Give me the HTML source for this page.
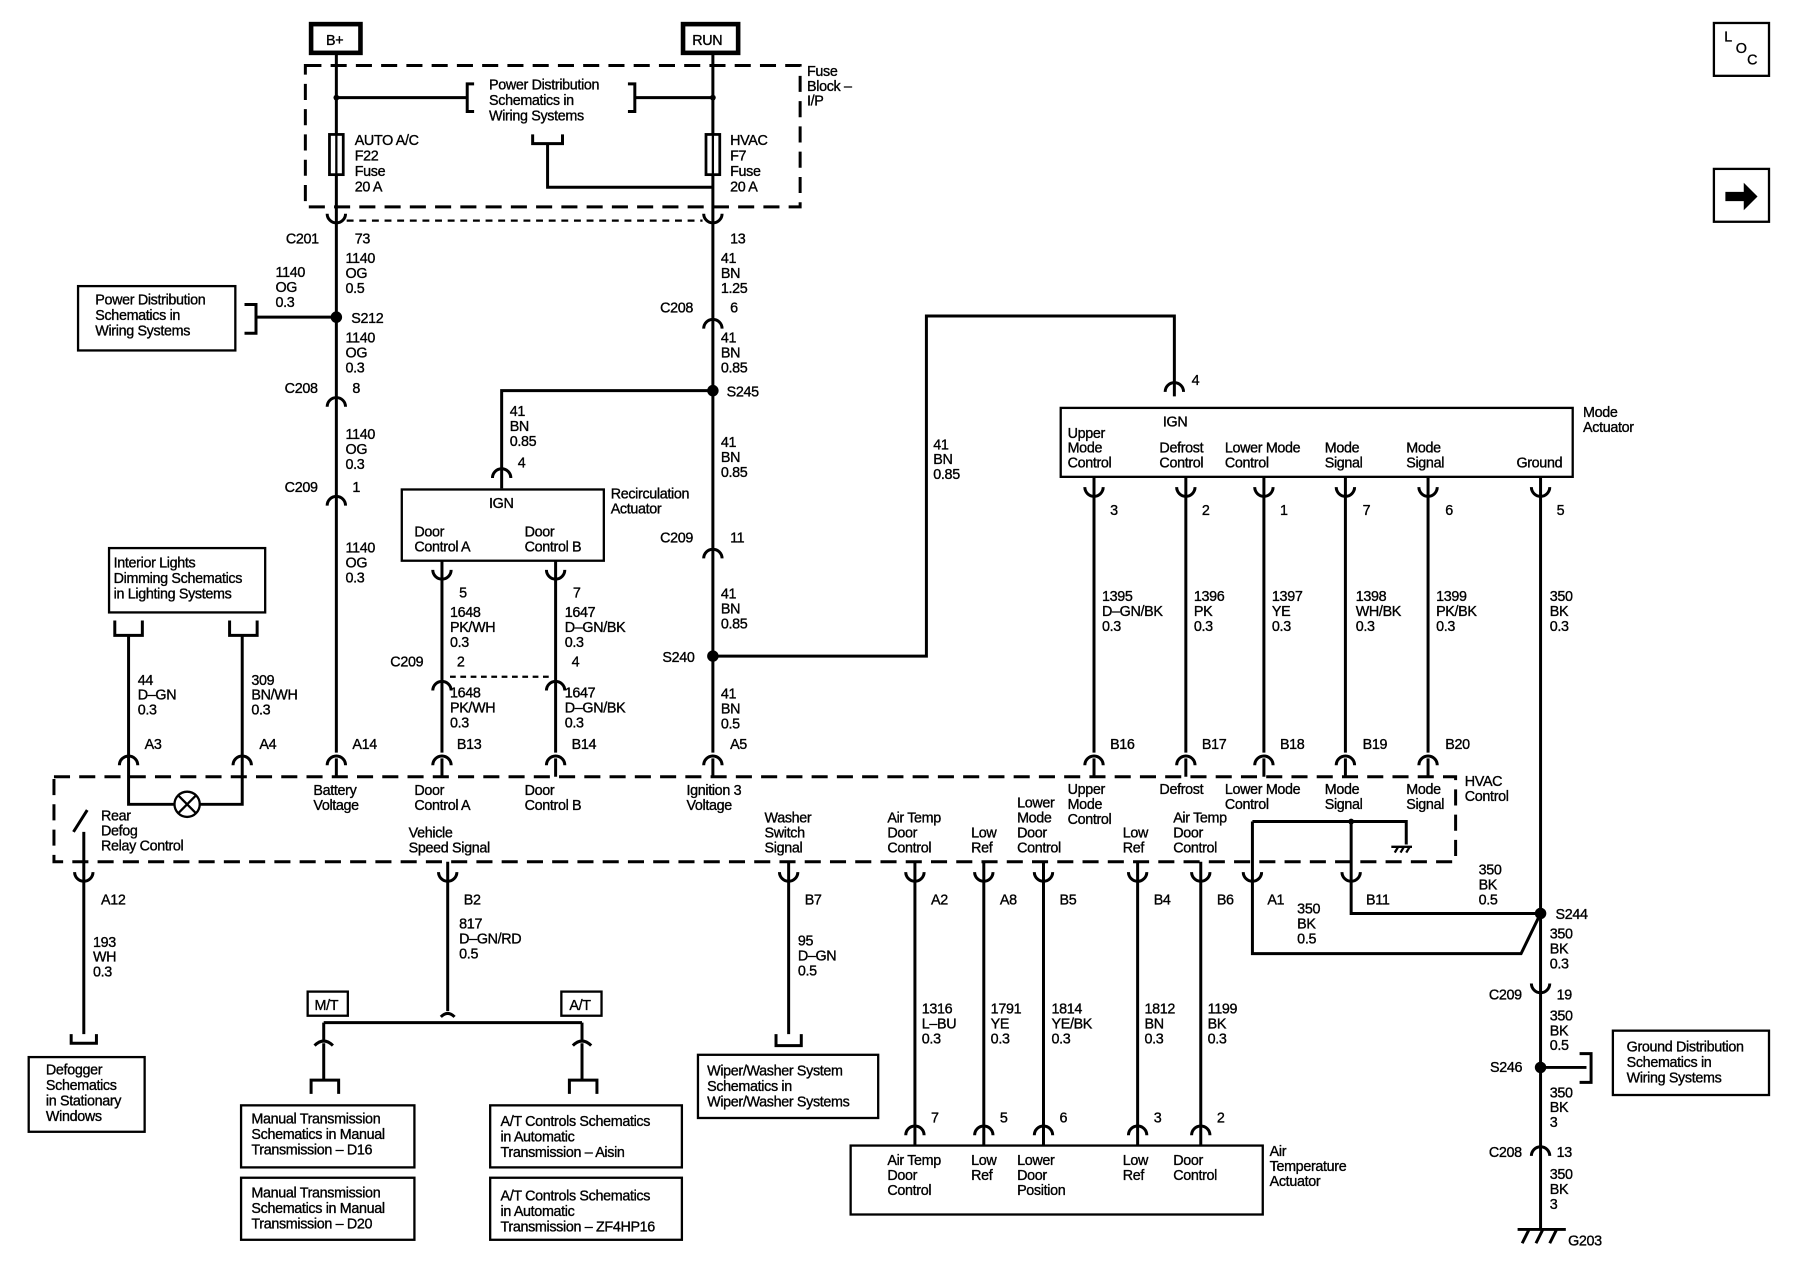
<!DOCTYPE html>
<html><head><meta charset="utf-8"><style>
html,body{margin:0;padding:0;background:#fff;}
svg{display:block}
text{font-family:"Liberation Sans",sans-serif;font-size:12.5px;fill:#000;letter-spacing:-0.3px;stroke:#000;stroke-width:0.3px}
.w{stroke:#000;stroke-width:2.6;fill:none}
.t{stroke:#000;stroke-width:2;fill:none}
.d{stroke:#000;stroke-width:2.6;fill:none;stroke-dasharray:14,8}
.b{stroke:#000;stroke-width:2.4;fill:#fff}
</style></head><body>
<svg width="1800" height="1280" viewBox="0 0 1568 1114" preserveAspectRatio="none" xmlns="http://www.w3.org/2000/svg">
<defs>
<path id="a" d="M-8,6 A8,8 0 0 1 8,6" class="w"/>
<path id="u" d="M-8,-6 A8,8 0 0 0 8,-6" class="w"/>
</defs>
<rect x="0" y="0" width="1568" height="1114" fill="#fff"/>
<rect x="271" y="21" width="43" height="25" fill="#fff" stroke="#000" stroke-width="4"/><text x="284" y="39">B+</text>
<rect x="595" y="21" width="48" height="25" fill="#fff" stroke="#000" stroke-width="4"/><text x="603" y="39">RUN</text>
<rect x="1493" y="20" width="48" height="46" class="t"/><text x="1502" y="36" font-size="10">L</text><text x="1512" y="46" font-size="10">O</text><text x="1522" y="56" font-size="10">C</text>
<rect x="1493" y="147" width="48" height="46" class="t"/><path d="M1503,167 h16 v-8 l12,12 l-12,12 v-8 h-16z" fill="#000"/>
<rect x="266" y="57" width="431" height="123" class="d"/>
<text x="703" y="66"><tspan x="703">Fuse</tspan><tspan x="703" dy="13">Block –</tspan><tspan x="703" dy="13">I/P</tspan></text>
<path d="M293,47 V655 M621,47 V655" class="w"/>
<path d="M293,85 H407 M553,85 H621 M413,73 h-6 v24 h6 M547,73 h6 v24 h-6" class="w"/>
<circle cx="293" cy="85" r="2.5"/><circle cx="621" cy="85" r="2.5"/>
<text x="426" y="78"><tspan x="426">Power Distribution</tspan><tspan x="426" dy="13.5">Schematics in</tspan><tspan x="426" dy="13.5">Wiring Systems</tspan></text>
<path d="M464,117 v8 h26 v-8 M477,125 V163 H621" class="w"/>
<rect x="287" y="117" width="12" height="35" class="b"/><rect x="615" y="117" width="12" height="35" class="b"/>
<path d="M293,117 V152 M621,117 V152" class="t"/>
<text x="309" y="126"><tspan x="309">AUTO A/C</tspan><tspan x="309" dy="13.5">F22</tspan><tspan x="309" dy="13.5">Fuse</tspan><tspan x="309" dy="13.5">20 A</tspan></text>
<text x="636" y="126"><tspan x="636">HVAC</tspan><tspan x="636" dy="13.5">F7</tspan><tspan x="636" dy="13.5">Fuse</tspan><tspan x="636" dy="13.5">20 A</tspan></text>
<path d="M302,192 H612" class="t" stroke-dasharray="6,5"/>
<use href="#u" x="293" y="192"/><use href="#u" x="621" y="192"/>
<text x="249" y="212">C201</text><text x="309" y="212">73</text><text x="636" y="212">13</text>
<text x="301" y="229"><tspan x="301">1140</tspan><tspan x="301" dy="13">OG</tspan><tspan x="301" dy="13">0.5</tspan></text>
<text x="240" y="241"><tspan x="240">1140</tspan><tspan x="240" dy="13">OG</tspan><tspan x="240" dy="13">0.3</tspan></text>
<circle cx="293" cy="276" r="5"/><text x="306" y="281">S212</text>
<path d="M293,276 H223 M213,265 h10 v25 h-10" class="w"/>
<rect x="68" y="249" width="137" height="56" class="t"/>
<text x="83" y="265"><tspan x="83">Power Distribution</tspan><tspan x="83" dy="13.5">Schematics in</tspan><tspan x="83" dy="13.5">Wiring Systems</tspan></text>
<text x="301" y="298"><tspan x="301">1140</tspan><tspan x="301" dy="13">OG</tspan><tspan x="301" dy="13">0.3</tspan></text>
<use href="#a" x="293" y="348"/><text x="248" y="342">C208</text><text x="307" y="342">8</text>
<text x="301" y="382"><tspan x="301">1140</tspan><tspan x="301" dy="13">OG</tspan><tspan x="301" dy="13">0.3</tspan></text>
<use href="#a" x="293" y="434"/><text x="248" y="428">C209</text><text x="307" y="428">1</text>
<text x="301" y="481"><tspan x="301">1140</tspan><tspan x="301" dy="13">OG</tspan><tspan x="301" dy="13">0.3</tspan></text>
<use href="#a" x="293" y="660"/><text x="307" y="652">A14</text>
<text x="628" y="229"><tspan x="628">41</tspan><tspan x="628" dy="13">BN</tspan><tspan x="628" dy="13">1.25</tspan></text>
<use href="#a" x="621" y="280"/><text x="575" y="272">C208</text><text x="636" y="272">6</text>
<text x="628" y="298"><tspan x="628">41</tspan><tspan x="628" dy="13">BN</tspan><tspan x="628" dy="13">0.85</tspan></text>
<circle cx="621" cy="340" r="5"/><text x="633" y="345">S245</text>
<path d="M621,340 H437 V425" class="w"/>
<text x="444" y="362"><tspan x="444">41</tspan><tspan x="444" dy="13">BN</tspan><tspan x="444" dy="13">0.85</tspan></text>
<use href="#a" x="437" y="410"/><text x="451" y="407">4</text>
<rect x="350" y="426" width="176" height="62" class="t"/>
<text x="426" y="442">IGN</text>
<text x="361" y="467"><tspan x="361">Door</tspan><tspan x="361" dy="13">Control A</tspan></text>
<text x="457" y="467"><tspan x="457">Door</tspan><tspan x="457" dy="13">Control B</tspan></text>
<text x="532" y="434"><tspan x="532">Recirculation</tspan><tspan x="532" dy="13">Actuator</tspan></text>
<path d="M385,488 V655 M484,488 V655" class="w"/>
<use href="#u" x="385" y="502"/><use href="#u" x="484" y="502"/>
<text x="400" y="520">5</text><text x="499" y="520">7</text>
<text x="392" y="537"><tspan x="392">1648</tspan><tspan x="392" dy="13">PK/WH</tspan><tspan x="392" dy="13">0.3</tspan></text>
<text x="492" y="537"><tspan x="492">1647</tspan><tspan x="492" dy="13">D–GN/BK</tspan><tspan x="492" dy="13">0.3</tspan></text>
<text x="340" y="580">C209</text><text x="398" y="580">2</text><text x="498" y="580">4</text>
<path d="M392,589 H478" class="t" stroke-dasharray="5,4"/>
<use href="#a" x="385" y="595"/><use href="#a" x="484" y="595"/>
<text x="392" y="607"><tspan x="392">1648</tspan><tspan x="392" dy="13">PK/WH</tspan><tspan x="392" dy="13">0.3</tspan></text>
<text x="492" y="607"><tspan x="492">1647</tspan><tspan x="492" dy="13">D–GN/BK</tspan><tspan x="492" dy="13">0.3</tspan></text>
<use href="#a" x="385" y="660"/><use href="#a" x="484" y="660"/>
<text x="398" y="652">B13</text><text x="498" y="652">B14</text>
<text x="628" y="389"><tspan x="628">41</tspan><tspan x="628" dy="13">BN</tspan><tspan x="628" dy="13">0.85</tspan></text>
<use href="#a" x="621" y="480"/><text x="575" y="472">C209</text><text x="636" y="472">11</text>
<text x="628" y="521"><tspan x="628">41</tspan><tspan x="628" dy="13">BN</tspan><tspan x="628" dy="13">0.85</tspan></text>
<circle cx="621" cy="571" r="5"/><text x="577" y="576">S240</text>
<path d="M621,571 H807 V275 H1023 V345" class="w"/>
<text x="813" y="391"><tspan x="813">41</tspan><tspan x="813" dy="13">BN</tspan><tspan x="813" dy="13">0.85</tspan></text>
<use href="#a" x="1023" y="335"/><text x="1038" y="335">4</text>
<text x="628" y="608"><tspan x="628">41</tspan><tspan x="628" dy="13">BN</tspan><tspan x="628" dy="13">0.5</tspan></text>
<use href="#a" x="621" y="660"/><text x="636" y="652">A5</text>
<rect x="924" y="355" width="446" height="60" class="t"/>
<text x="1013" y="371">IGN</text>
<text x="930" y="381"><tspan x="930">Upper</tspan><tspan x="930" dy="13">Mode</tspan><tspan x="930" dy="13">Control</tspan></text>
<text x="1010" y="394"><tspan x="1010">Defrost</tspan><tspan x="1010" dy="13">Control</tspan></text>
<text x="1067" y="394"><tspan x="1067">Lower Mode</tspan><tspan x="1067" dy="13">Control</tspan></text>
<text x="1154" y="394"><tspan x="1154">Mode</tspan><tspan x="1154" dy="13">Signal</tspan></text>
<text x="1225" y="394"><tspan x="1225">Mode</tspan><tspan x="1225" dy="13">Signal</tspan></text>
<text x="1321" y="407">Ground</text>
<text x="1379" y="363"><tspan x="1379">Mode</tspan><tspan x="1379" dy="13">Actuator</tspan></text>
<path d="M953,415 V655 M1033,415 V655 M1101,415 V655 M1172,415 V655 M1244,415 V655 M1342,415 V1070" class="w"/>
<use href="#u" x="953" y="430"/><use href="#u" x="1033" y="430"/><use href="#u" x="1101" y="430"/><use href="#u" x="1172" y="430"/><use href="#u" x="1244" y="430"/><use href="#u" x="1342" y="430"/>
<text x="967" y="448">3</text><text x="1047" y="448">2</text><text x="1115" y="448">1</text><text x="1187" y="448">7</text><text x="1259" y="448">6</text><text x="1356" y="448">5</text>
<text x="960" y="523"><tspan x="960">1395</tspan><tspan x="960" dy="13">D–GN/BK</tspan><tspan x="960" dy="13">0.3</tspan></text>
<text x="1040" y="523"><tspan x="1040">1396</tspan><tspan x="1040" dy="13">PK</tspan><tspan x="1040" dy="13">0.3</tspan></text>
<text x="1108" y="523"><tspan x="1108">1397</tspan><tspan x="1108" dy="13">YE</tspan><tspan x="1108" dy="13">0.3</tspan></text>
<text x="1181" y="523"><tspan x="1181">1398</tspan><tspan x="1181" dy="13">WH/BK</tspan><tspan x="1181" dy="13">0.3</tspan></text>
<text x="1251" y="523"><tspan x="1251">1399</tspan><tspan x="1251" dy="13">PK/BK</tspan><tspan x="1251" dy="13">0.3</tspan></text>
<text x="1350" y="523"><tspan x="1350">350</tspan><tspan x="1350" dy="13">BK</tspan><tspan x="1350" dy="13">0.3</tspan></text>
<use href="#a" x="953" y="660"/><use href="#a" x="1033" y="660"/><use href="#a" x="1101" y="660"/><use href="#a" x="1172" y="660"/><use href="#a" x="1244" y="660"/>
<text x="967" y="652">B16</text><text x="1047" y="652">B17</text><text x="1115" y="652">B18</text><text x="1187" y="652">B19</text><text x="1259" y="652">B20</text>
<rect x="47" y="676" width="1221" height="74" class="d"/>
<text x="1276" y="684"><tspan x="1276">HVAC</tspan><tspan x="1276" dy="13">Control</tspan></text>
<text x="273" y="692"><tspan x="273">Battery</tspan><tspan x="273" dy="13">Voltage</tspan></text>
<text x="361" y="692"><tspan x="361">Door</tspan><tspan x="361" dy="13">Control A</tspan></text>
<text x="457" y="692"><tspan x="457">Door</tspan><tspan x="457" dy="13">Control B</tspan></text>
<text x="598" y="692"><tspan x="598">Ignition 3</tspan><tspan x="598" dy="13">Voltage</tspan></text>
<text x="930" y="691"><tspan x="930">Upper</tspan><tspan x="930" dy="13">Mode</tspan><tspan x="930" dy="13">Control</tspan></text>
<text x="1010" y="691">Defrost</text>
<text x="1067" y="691"><tspan x="1067">Lower Mode</tspan><tspan x="1067" dy="13">Control</tspan></text>
<text x="1154" y="691"><tspan x="1154">Mode</tspan><tspan x="1154" dy="13">Signal</tspan></text>
<text x="1225" y="691"><tspan x="1225">Mode</tspan><tspan x="1225" dy="13">Signal</tspan></text>
<text x="88" y="714"><tspan x="88">Rear</tspan><tspan x="88" dy="13">Defog</tspan><tspan x="88" dy="13">Relay Control</tspan></text>
<text x="356" y="729"><tspan x="356">Vehicle</tspan><tspan x="356" dy="13">Speed Signal</tspan></text>
<text x="666" y="716"><tspan x="666">Washer</tspan><tspan x="666" dy="13">Switch</tspan><tspan x="666" dy="13">Signal</tspan></text>
<text x="773" y="716"><tspan x="773">Air Temp</tspan><tspan x="773" dy="13">Door</tspan><tspan x="773" dy="13">Control</tspan></text>
<text x="846" y="729"><tspan x="846">Low</tspan><tspan x="846" dy="13">Ref</tspan></text>
<text x="886" y="703"><tspan x="886">Lower</tspan><tspan x="886" dy="13">Mode</tspan><tspan x="886" dy="13">Door</tspan><tspan x="886" dy="13">Control</tspan></text>
<text x="978" y="729"><tspan x="978">Low</tspan><tspan x="978" dy="13">Ref</tspan></text>
<text x="1022" y="716"><tspan x="1022">Air Temp</tspan><tspan x="1022" dy="13">Door</tspan><tspan x="1022" dy="13">Control</tspan></text>
<path d="M293,660 V676 M385,660 V676 M484,660 V676 M621,660 V676 M953,660 V676 M1033,660 V676 M1101,660 V676 M1172,660 V676 M1244,660 V676" class="w"/>
<rect x="95" y="477" width="136" height="56" class="t"/>
<text x="99" y="494"><tspan x="99">Interior Lights</tspan><tspan x="99" dy="13.5">Dimming Schematics</tspan><tspan x="99" dy="13.5">in Lighting Systems</tspan></text>
<path d="M100,540 v13 h24 v-13 M200,540 v13 h24 v-13 M112,553 V700 H152 M174,700 H211 V553" class="w"/>
<circle cx="163" cy="700" r="11" class="t"/><path d="M155,692 l16,16 M171,692 l-16,16" class="t"/>
<use href="#a" x="112" y="660"/><use href="#a" x="211" y="660"/>
<text x="120" y="596"><tspan x="120">44</tspan><tspan x="120" dy="13">D–GN</tspan><tspan x="120" dy="13">0.3</tspan></text>
<text x="219" y="596"><tspan x="219">309</tspan><tspan x="219" dy="13">BN/WH</tspan><tspan x="219" dy="13">0.3</tspan></text>
<text x="126" y="652">A3</text><text x="226" y="652">A4</text>
<path d="M64,724 L76,705 M73,724 V900 M62,900 v8 h22 v-8" class="w"/>
<use href="#u" x="73" y="765"/><text x="88" y="787">A12</text>
<text x="81" y="824"><tspan x="81">193</tspan><tspan x="81" dy="13">WH</tspan><tspan x="81" dy="13">0.3</tspan></text>
<rect x="25" y="920" width="101" height="65" class="t"/>
<text x="40" y="935"><tspan x="40">Defogger</tspan><tspan x="40" dy="13.5">Schematics</tspan><tspan x="40" dy="13.5">in Stationary</tspan><tspan x="40" dy="13.5">Windows</tspan></text>
<path d="M390,750 V880 M384,885 q6,-6 12,0 M282,890 H507 M282,890 V905 M507,890 V905" class="w"/>
<use href="#u" x="390" y="765"/><text x="404" y="787">B2</text>
<text x="400" y="808"><tspan x="400">817</tspan><tspan x="400" dy="13">D–GN/RD</tspan><tspan x="400" dy="13">0.5</tspan></text>
<rect x="268" y="863" width="35" height="21" class="t"/><text x="274" y="879">M/T</text>
<rect x="489" y="863" width="35" height="21" class="t"/><text x="496" y="879">A/T</text>
<path d="M274,910 q8,-8 16,0 M499,910 q8,-8 16,0 M282,908 V940 M507,908 V940 M271,952 v-12 h24 v12 M496,952 v-12 h24 v12" class="w"/>
<rect x="210" y="962" width="151" height="54" class="t"/>
<text x="219" y="978"><tspan x="219">Manual Transmission</tspan><tspan x="219" dy="13.5">Schematics in Manual</tspan><tspan x="219" dy="13.5">Transmission – D16</tspan></text>
<rect x="210" y="1025" width="151" height="54" class="t"/>
<text x="219" y="1042"><tspan x="219">Manual Transmission</tspan><tspan x="219" dy="13.5">Schematics in Manual</tspan><tspan x="219" dy="13.5">Transmission – D20</tspan></text>
<rect x="427" y="962" width="167" height="54" class="t"/>
<text x="436" y="980"><tspan x="436">A/T Controls Schematics</tspan><tspan x="436" dy="13.5">in Automatic</tspan><tspan x="436" dy="13.5">Transmission – Aisin</tspan></text>
<rect x="427" y="1025" width="167" height="54" class="t"/>
<text x="436" y="1045"><tspan x="436">A/T Controls Schematics</tspan><tspan x="436" dy="13.5">in Automatic</tspan><tspan x="436" dy="13.5">Transmission – ZF4HP16</tspan></text>
<path d="M687,750 V900 M676,900 v10 h22 v-10" class="w"/>
<use href="#u" x="687" y="765"/><text x="701" y="787">B7</text>
<text x="695" y="823"><tspan x="695">95</tspan><tspan x="695" dy="13">D–GN</tspan><tspan x="695" dy="13">0.5</tspan></text>
<rect x="608" y="918" width="157" height="55" class="t"/>
<text x="616" y="936"><tspan x="616">Wiper/Washer System</tspan><tspan x="616" dy="13.5">Schematics in</tspan><tspan x="616" dy="13.5">Wiper/Washer Systems</tspan></text>
<path d="M797,750 V997 M857,750 V997 M909,750 V997 M991,750 V997 M1046,750 V997" class="w"/>
<use href="#u" x="797" y="765"/><use href="#u" x="857" y="765"/><use href="#u" x="909" y="765"/><use href="#u" x="991" y="765"/><use href="#u" x="1046" y="765"/>
<text x="811" y="787">A2</text><text x="871" y="787">A8</text><text x="923" y="787">B5</text><text x="1005" y="787">B4</text><text x="1060" y="787">B6</text>
<text x="803" y="882"><tspan x="803">1316</tspan><tspan x="803" dy="13">L–BU</tspan><tspan x="803" dy="13">0.3</tspan></text>
<text x="863" y="882"><tspan x="863">1791</tspan><tspan x="863" dy="13">YE</tspan><tspan x="863" dy="13">0.3</tspan></text>
<text x="916" y="882"><tspan x="916">1814</tspan><tspan x="916" dy="13">YE/BK</tspan><tspan x="916" dy="13">0.3</tspan></text>
<text x="997" y="882"><tspan x="997">1812</tspan><tspan x="997" dy="13">BN</tspan><tspan x="997" dy="13">0.3</tspan></text>
<text x="1052" y="882"><tspan x="1052">1199</tspan><tspan x="1052" dy="13">BK</tspan><tspan x="1052" dy="13">0.3</tspan></text>
<use href="#a" x="797" y="982"/><use href="#a" x="857" y="982"/><use href="#a" x="909" y="982"/><use href="#a" x="991" y="982"/><use href="#a" x="1046" y="982"/>
<text x="811" y="977">7</text><text x="871" y="977">5</text><text x="923" y="977">6</text><text x="1005" y="977">3</text><text x="1060" y="977">2</text>
<rect x="741" y="997" width="359" height="60" class="t"/>
<text x="773" y="1014"><tspan x="773">Air Temp</tspan><tspan x="773" dy="13">Door</tspan><tspan x="773" dy="13">Control</tspan></text>
<text x="846" y="1014"><tspan x="846">Low</tspan><tspan x="846" dy="13">Ref</tspan></text>
<text x="886" y="1014"><tspan x="886">Lower</tspan><tspan x="886" dy="13">Door</tspan><tspan x="886" dy="13">Position</tspan></text>
<text x="978" y="1014"><tspan x="978">Low</tspan><tspan x="978" dy="13">Ref</tspan></text>
<text x="1022" y="1014"><tspan x="1022">Door</tspan><tspan x="1022" dy="13">Control</tspan></text>
<text x="1106" y="1006"><tspan x="1106">Air</tspan><tspan x="1106" dy="13">Temperature</tspan><tspan x="1106" dy="13">Actuator</tspan></text>
<path d="M1091,715 H1225 V735 M1177,715 V795 H1342 M1091,715 V830 H1325 L1342,795" class="w"/>
<circle cx="1177" cy="715" r="2.5"/>
<path d="M1212,737 h18 M1215,742 l3,-5 M1220,742 l3,-5 M1225,742 l3,-5" class="t"/>
<use href="#u" x="1091" y="765"/><use href="#u" x="1177" y="765"/>
<text x="1104" y="787">A1</text><text x="1190" y="787">B11</text>
<text x="1130" y="795"><tspan x="1130">350</tspan><tspan x="1130" dy="13">BK</tspan><tspan x="1130" dy="13">0.5</tspan></text>
<text x="1288" y="761"><tspan x="1288">350</tspan><tspan x="1288" dy="13">BK</tspan><tspan x="1288" dy="13">0.5</tspan></text>
<circle cx="1342" cy="795" r="5"/><text x="1355" y="800">S244</text>
<text x="1350" y="817"><tspan x="1350">350</tspan><tspan x="1350" dy="13">BK</tspan><tspan x="1350" dy="13">0.3</tspan></text>
<use href="#u" x="1342" y="862"/><text x="1297" y="870">C209</text><text x="1356" y="870">19</text>
<text x="1350" y="888"><tspan x="1350">350</tspan><tspan x="1350" dy="13">BK</tspan><tspan x="1350" dy="13">0.5</tspan></text>
<circle cx="1342" cy="929" r="5"/><text x="1298" y="933">S246</text>
<path d="M1342,929 H1382 M1376,917 h10 v25 h-10" class="w"/>
<rect x="1405" y="897" width="136" height="56" class="t"/>
<text x="1417" y="915"><tspan x="1417">Ground Distribution</tspan><tspan x="1417" dy="13.5">Schematics in</tspan><tspan x="1417" dy="13.5">Wiring Systems</tspan></text>
<text x="1350" y="955"><tspan x="1350">350</tspan><tspan x="1350" dy="13">BK</tspan><tspan x="1350" dy="13">3</tspan></text>
<use href="#a" x="1342" y="1000"/><text x="1297" y="1007">C208</text><text x="1356" y="1007">13</text>
<text x="1350" y="1026"><tspan x="1350">350</tspan><tspan x="1350" dy="13">BK</tspan><tspan x="1350" dy="13">3</tspan></text>
<path d="M1322,1070 H1364 M1326,1082 l6,-12 M1338,1082 l6,-12 M1350,1082 l6,-12" class="w"/>
<text x="1366" y="1084">G203</text>
</svg>
</body></html>
